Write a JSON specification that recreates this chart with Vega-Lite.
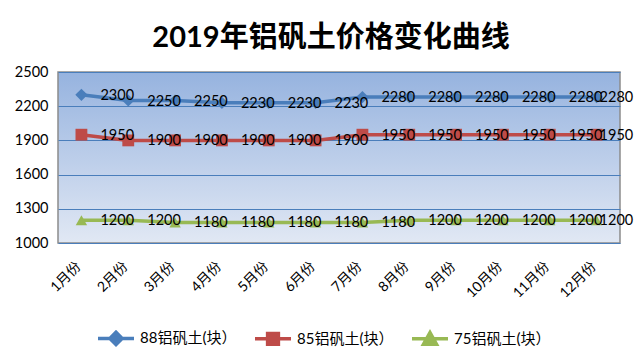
{
  "$schema": "https://vega.github.io/schema/vega-lite/v6.json",
  "width": 562,
  "height": 171,
  "autosize": {"type": "none"},
  "padding": {"left": 58, "top": 72, "right": 19, "bottom": 119},
  "background": "white",
  "title": {
    "text": "2019年铝矾土价格变化曲线",
    "fontSize": 29,
    "fontWeight": "bold",
    "font": "Lato, Noto Sans CJK SC",
    "color": "#000000",
    "anchor": "middle",
    "dx": -8,
    "offset": 11
  },
  "config": {
    "view": {
      "stroke": "#8c8c8c",
      "strokeWidth": 1.5,
      "fill": {"gradient": "linear", "x1": 0, "y1": 0, "x2": 0, "y2": 1, "stops": [{"offset": 0, "color": "#96b3df"}, {"offset": 1, "color": "#e1e8f4"}]}
    },
    "axis": {"labelFont": "Lato, Noto Sans CJK SC", "labelColor": "#000000"}
  },
  "data": {
    "values": [
      {"month": "1月份", "series": "88铝矾土(块）", "value": 2300},
      {"month": "2月份", "series": "88铝矾土(块）", "value": 2250},
      {"month": "3月份", "series": "88铝矾土(块）", "value": 2250},
      {"month": "4月份", "series": "88铝矾土(块）", "value": 2230},
      {"month": "5月份", "series": "88铝矾土(块）", "value": 2230},
      {"month": "6月份", "series": "88铝矾土(块）", "value": 2230},
      {"month": "7月份", "series": "88铝矾土(块）", "value": 2280},
      {"month": "8月份", "series": "88铝矾土(块）", "value": 2280},
      {"month": "9月份", "series": "88铝矾土(块）", "value": 2280},
      {"month": "10月份", "series": "88铝矾土(块）", "value": 2280},
      {"month": "11月份", "series": "88铝矾土(块）", "value": 2280},
      {"month": "12月份", "series": "88铝矾土(块）", "value": 2280},
      {"month": "1月份", "series": "85铝矾土(块）", "value": 1950},
      {"month": "2月份", "series": "85铝矾土(块）", "value": 1900},
      {"month": "3月份", "series": "85铝矾土(块）", "value": 1900},
      {"month": "4月份", "series": "85铝矾土(块）", "value": 1900},
      {"month": "5月份", "series": "85铝矾土(块）", "value": 1900},
      {"month": "6月份", "series": "85铝矾土(块）", "value": 1900},
      {"month": "7月份", "series": "85铝矾土(块）", "value": 1950},
      {"month": "8月份", "series": "85铝矾土(块）", "value": 1950},
      {"month": "9月份", "series": "85铝矾土(块）", "value": 1950},
      {"month": "10月份", "series": "85铝矾土(块）", "value": 1950},
      {"month": "11月份", "series": "85铝矾土(块）", "value": 1950},
      {"month": "12月份", "series": "85铝矾土(块）", "value": 1950},
      {"month": "1月份", "series": "75铝矾土(块）", "value": 1200},
      {"month": "2月份", "series": "75铝矾土(块）", "value": 1200},
      {"month": "3月份", "series": "75铝矾土(块）", "value": 1180},
      {"month": "4月份", "series": "75铝矾土(块）", "value": 1180},
      {"month": "5月份", "series": "75铝矾土(块）", "value": 1180},
      {"month": "6月份", "series": "75铝矾土(块）", "value": 1180},
      {"month": "7月份", "series": "75铝矾土(块）", "value": 1180},
      {"month": "8月份", "series": "75铝矾土(块）", "value": 1200},
      {"month": "9月份", "series": "75铝矾土(块）", "value": 1200},
      {"month": "10月份", "series": "75铝矾土(块）", "value": 1200},
      {"month": "11月份", "series": "75铝矾土(块）", "value": 1200},
      {"month": "12月份", "series": "75铝矾土(块）", "value": 1200}
    ]
  },
  "encoding": {
    "x": {
      "field": "month",
      "type": "ordinal",
      "sort": ["1月份", "2月份", "3月份", "4月份", "5月份", "6月份", "7月份", "8月份", "9月份", "10月份", "11月份", "12月份"],
      "scale": {"type": "point", "padding": 0.5},
      "axis": {
        "title": null,
        "labelAngle": -45,
        "labelAlign": "right",
        "labelBaseline": "middle",
        "labelFontSize": 14,
        "labelPadding": 21,
        "labelOffset": -3,
        "ticks": false,
        "domain": false,
        "grid": false
      }
    },
    "y": {
      "field": "value",
      "type": "quantitative",
      "scale": {"domain": [1000, 2500], "nice": false, "zero": false},
      "axis": {
        "title": null,
        "values": [1000, 1300, 1600, 1900, 2200, 2500],
        "format": "d",
        "labelFontSize": 14.5,
        "labelPadding": 10,
        "ticks": false,
        "domain": false,
        "grid": true,
        "gridColor": "#4a7ebb",
        "gridWidth": 1,
        "gridOpacity": 1
      }
    }
  },
  "layer": [
    {
      "mark": {"type": "line", "strokeWidth": 3.5},
      "encoding": {
        "stroke": {
          "field": "series",
          "type": "nominal",
          "scale": {"domain": ["88铝矾土(块）", "85铝矾土(块）", "75铝矾土(块）"], "range": ["#4a7ebb", "#be4b48", "#98b954"]},
          "legend": {
            "title": null,
            "orient": "none",
            "direction": "horizontal",
            "legendX": 38,
            "legendY": 246,
            "labelFont": "Lato, Noto Sans CJK SC",
            "labelFontSize": 15,
            "labelColor": "#000000",
            "symbolSize": 1296,
            "symbolStrokeWidth": 3.5,
            "columnPadding": 11,
            "labelOffset": 4,
            "encode": {
              "symbols": {
                "update": {
                  "shape": {"signal": "datum.value === '88铝矾土(块）' ? 'M-1,0L1,0M0,-0.34L0.34,0L0,0.34L-0.34,0Z' : datum.value === '85铝矾土(块）' ? 'M-1,0L1,0M-0.3,-0.3L0.3,-0.3L0.3,0.3L-0.3,0.3Z' : 'M-1,0L1,0M0,-0.34L0.36,0.3L-0.36,0.3Z'"},
                  "stroke": {"signal": "scale('stroke', datum.value)"},
                  "fill": {"signal": "scale('stroke', datum.value)"},
                  "strokeWidth": {"value": 3.5},
                  "opacity": {"value": 1}
                }
              }
            }
          }
        },
        "detail": {"field": "series"}
      }
    },
    {
      "transform": [{"filter": "datum.series === '88铝矾土(块）'"}],
      "mark": {"type": "point", "filled": true, "size": 150, "opacity": 1, "shape": "diamond", "color": "#4a7ebb"}
    },
    {
      "transform": [{"filter": "datum.series === '85铝矾土(块）'"}],
      "mark": {"type": "point", "filled": true, "size": 140, "opacity": 1, "shape": "square", "color": "#be4b48"}
    },
    {
      "transform": [{"filter": "datum.series === '75铝矾土(块）'"}],
      "mark": {"type": "point", "filled": true, "size": 130, "opacity": 1, "shape": "triangle-up", "color": "#98b954"}
    },
    {
      "transform": [{"filter": "datum.month !== '12月份'"}],
      "mark": {"type": "text", "align": "left", "baseline": "middle", "dx": 19, "dy": 1, "font": "Lato, Noto Sans CJK SC", "fontSize": 14.5, "color": "#000000"},
      "encoding": {"text": {"field": "value", "type": "quantitative"}}
    },
    {
      "transform": [{"filter": "datum.month === '12月份'"}],
      "mark": {"type": "text", "align": "left", "baseline": "middle", "dx": 3, "dy": 1, "font": "Lato, Noto Sans CJK SC", "fontSize": 14.5, "color": "#000000"},
      "encoding": {"text": {"field": "value", "type": "quantitative"}}
    }
  ]
}
